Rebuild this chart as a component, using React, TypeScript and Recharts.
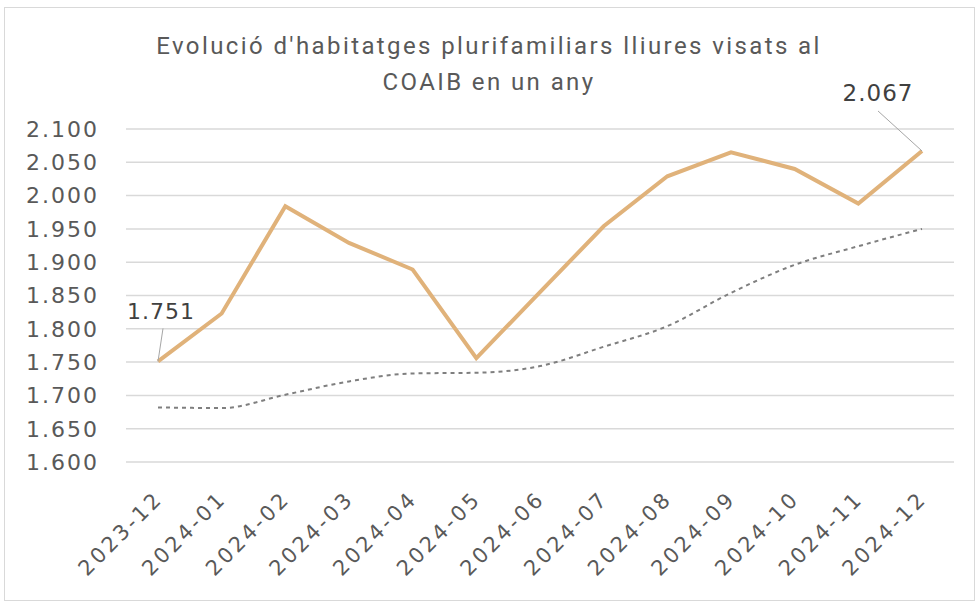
import { LineChart, Line, XAxis, YAxis, CartesianGrid } from 'recharts';

const months = [
  '2023-12', '2024-01', '2024-02', '2024-03', '2024-04', '2024-05', '2024-06',
  '2024-07', '2024-08', '2024-09', '2024-10', '2024-11', '2024-12',
];
const visats = [1751, 1823, 1984, 1929, 1889, 1756, 1855, 1954, 2029, 2065, 2040, 1988, 2067];
const tendencia = [1682, 1681, 1701, 1721, 1733, 1734, 1744, 1773, 1804, 1854, 1896, 1924, 1950];
const yTicks = [1600, 1650, 1700, 1750, 1800, 1850, 1900, 1950, 2000, 2050, 2100];

const data = months.map((m, i) => ({ month: m, visats: visats[i], tendencia: tendencia[i] }));

const fmt = (v: number) => v.toLocaleString('de-DE');
const FONT = '"DejaVu Sans", sans-serif';

function XTick({ x, y, payload }: any) {
  return (
    <g transform={`translate(${x + 6},${y + 30})`}>
      <text
        x={0}
        y={0}
        textAnchor="end"
        transform="rotate(-45)"
        fill="#595959"
        fontSize={21}
        fontFamily={FONT}
        letterSpacing={3}
      >
        {payload.value}
      </text>
    </g>
  );
}

// only first and last points carry a value label with a leader line
function EndLabel({ x, y, index, value }: any) {
  if (index === 0) {
    return (
      <g>
        <line x1={x + 5} y1={y - 33} x2={x} y2={y} stroke="#a6a6a6" strokeWidth={1} />
        <text x={x + 3} y={y - 42} textAnchor="middle" fill="#404040" fontSize={22} fontFamily={FONT} letterSpacing={1}>
          {fmt(value)}
        </text>
      </g>
    );
  }
  if (index === months.length - 1) {
    return (
      <g>
        <line x1={x - 44} y1={y - 40} x2={x} y2={y} stroke="#a6a6a6" strokeWidth={1} />
        <text x={x - 44} y={y - 50} textAnchor="middle" fill="#404040" fontSize={23} fontFamily={FONT} letterSpacing={1}>
          {fmt(value)}
        </text>
      </g>
    );
  }
  return null;
}

export default function App() {
  return (
    <div style={{ position: 'absolute', left: 0, top: 0, width: 978, height: 603, background: '#fff' }}>
      <div
        style={{
          position: 'absolute', left: 4, top: 7, width: 971, height: 594,
          border: '1px solid #d9d9d9', boxSizing: 'border-box',
        }}
      />
      <div
        style={{
          position: 'absolute', left: 0, top: 28, width: 978, textAlign: 'center',
          fontFamily: 'Roboto, sans-serif', fontSize: 24, lineHeight: '36px', color: '#595959',
          letterSpacing: 2.4,
        }}
      >
        Evolució d'habitatges plurifamiliars lliures visats al
        <br />
        COAIB en un any
      </div>
      <div style={{ position: 'absolute', left: 0, top: 0 }}>
        <LineChart width={978} height={603} data={data} margin={{ top: 129, right: 24, bottom: 0, left: 0 }}>
          <CartesianGrid vertical={false} stroke="#d9d9d9" strokeWidth={1.5} />
          <XAxis
            dataKey="month"
            axisLine={false}
            tickLine={false}
            interval={0}
            height={141}
            padding={{ left: 32, right: 32 }}
            tick={<XTick />}
          />
          <YAxis
            domain={[1600, 2100]}
            ticks={yTicks}
            width={126}
            axisLine={false}
            tickLine={false}
            tickSize={0}
            tickMargin={27}
            tickFormatter={fmt}
            tick={{ fill: '#595959', fontSize: 22, fontFamily: FONT, letterSpacing: 2 }}
          />
          <Line
            type="monotone"
            dataKey="tendencia"
            stroke="#7f7f7f"
            strokeWidth={2}
            strokeDasharray="4 4"
            dot={false}
            isAnimationActive={false}
          />
          <Line
            type="linear"
            dataKey="visats"
            stroke="#e0b27a"
            strokeWidth={4}
            dot={false}
            isAnimationActive={false}
            label={<EndLabel />}
          />
        </LineChart>
      </div>
    </div>
  );
}
